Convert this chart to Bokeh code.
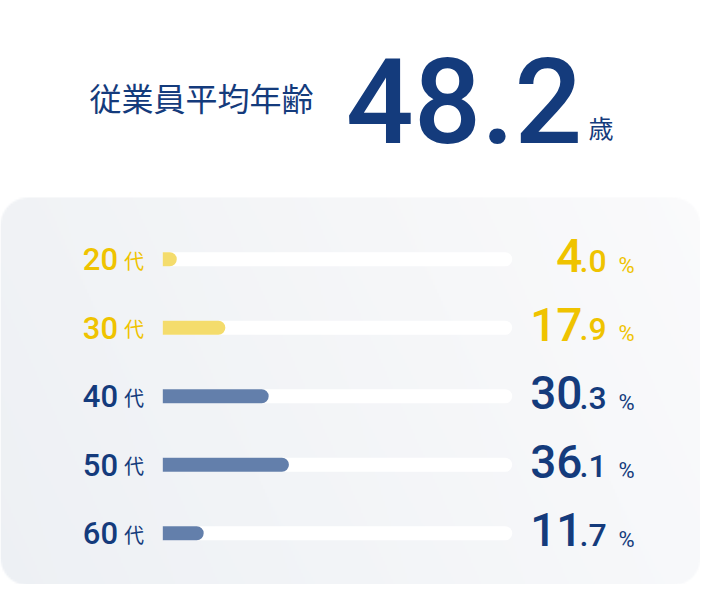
import numpy as np
from bokeh.plotting import figure
from bokeh.models import Range1d, ColumnDataSource
from bokeh.core.properties import value
from bokeh.embed import file_html
from bokeh.resources import INLINE

# ---- data ----
title_text = "従業員平均年齢"
average_age = "48.2"
age_unit = "歳"
decades = ["20", "30", "40", "50", "60"]
decade_suffix = "代"
shares = [4.0, 17.9, 30.3, 36.1, 11.7]
percent_sign = "%"

# ---- styles ----
NAVY = "#143b7c"
YELLOW_TXT = "#efc300"
YELLOW_BAR = "#f4dc6c"
BLUE_BAR = "#637fab"
NUM_FONT = value("Roboto Medium, Roboto")
CJK_FONT = value("Noto Sans CJK JP")

W, H = 700, 584
X0, XS = 162.3, 3.494     # px of 0 %, px per %
Y0, YS = 258.8, 68.5      # px of first row, px per row
def X(px):
    return (px - X0) / XS
def Y(px):
    return (px - Y0) / YS

p = figure(width=W, height=H, output_backend="svg", toolbar_location=None,
           x_range=Range1d(X(0), X(W)), y_range=Range1d(Y(H), Y(0)),
           min_border=0, outline_line_color=None, background_fill_color="white",
           border_fill_color="white")
p.axis.visible = False
p.grid.visible = False

# ---- panel background (soft gradient, rounded corners) ----
PT, PB, PL, PR, RAD, STEP = 197, 585, 0, 700, 28, 2
nx, ny = (PR - PL) // STEP, (PB - PT) // STEP
cx = PL + (np.arange(nx) + 0.5) * STEP
cy = PB - (np.arange(ny) + 0.5) * STEP          # row 0 = bottom
gx, gy = np.meshgrid(cx, cy)
u = (gx - PL) / (PR - PL)
v = (gy - PT) / (PB - PT)
c_tl = np.array([237, 240, 244.0])
c_tr = np.array([247, 248, 250.0])
c_bl = np.array([240, 242, 245.0])
col = c_tl + (c_tr - c_tl) * u[..., None] + (c_bl - c_tl) * v[..., None]
qx = np.abs(gx - (PL + PR) / 2) - ((PR - PL) / 2 - RAD)
qy = np.abs(gy - (PT + PB) / 2) - ((PB - PT) / 2 - RAD)
sdf = np.hypot(np.maximum(qx, 0), np.maximum(qy, 0)) + np.minimum(np.maximum(qx, qy), 0) - RAD
alpha = np.clip(0.5 - sdf / STEP, 0, 1) * 255
rgba = np.dstack([col, alpha]).round().astype(np.uint8)
img = np.ascontiguousarray(rgba).view(dtype=np.uint32).reshape(ny, nx)
p.image_rgba(image=[img], x=X(PL), y=Y(PT), dw=X(PR) - X(PL), dh=Y(PB) - Y(PT))

rows = list(range(len(decades)))
is_young = [d in ("20", "30") for d in decades]
bar_colors = [YELLOW_BAR if y else BLUE_BAR for y in is_young]
txt_colors = [YELLOW_TXT if y else NAVY for y in is_young]
int_parts = [f"{v:.1f}".split(".")[0] for v in shares]
dec_parts = ["." + f"{v:.1f}".split(".")[1] for v in shares]

src = ColumnDataSource(dict(row=rows, share=shares, decade=decades,
                            suffix=[decade_suffix] * len(rows),
                            bar_color=bar_colors, txt_color=txt_colors,
                            ip=int_parts, dp=dec_parts,
                            pct=[percent_sign] * len(rows),
                            full=[100] * len(rows), zero=[0] * len(rows)))

bh = 14 / YS
p.hbar(y="row", left="zero", right="full", height=bh, source=src,
       fill_color="white", line_color=None, border_radius=(0, 7, 7, 0))
p.hbar(y="row", left="zero", right="share", height=bh, source=src,
       fill_color="bar_color", line_color=None, border_radius=(0, 7, 7, 0))

# decade labels
p.text(x=X(117.5), y="row", text="decade", source=src, text_color="txt_color",
       text_font=NUM_FONT, text_font_size="31px", text_align="right",
       text_baseline="middle", y_offset=0)
p.text(x=X(123.5), y="row", text="suffix", source=src, text_color="txt_color",
       text_font=CJK_FONT, text_font_size="20px", text_align="left",
       text_baseline="middle", y_offset=1)

# values
p.text(x=X(582), y="row", text="ip", source=src, text_color="txt_color",
       text_font=NUM_FONT, text_font_size="46px", text_align="right",
       text_baseline="middle", y_offset=-3.5)
p.text(x=X(579), y="row", text="dp", source=src, text_color="txt_color",
       text_font=NUM_FONT, text_font_size="32px", text_align="left",
       text_baseline="middle", y_offset=1.5)
p.text(x=X(618), y="row", text="pct", source=src, text_color="txt_color",
       text_font=value("Roboto"), text_font_size="22px", text_align="left",
       text_baseline="middle", y_offset=6)

# header
p.text(x=[X(89)], y=[Y(96)], text=[title_text], text_color=NAVY,
       text_font=CJK_FONT, text_font_size="32px",
       text_align="left", text_baseline="middle")
p.text(x=[X(345.5)], y=[Y(99.5)], text=[average_age], text_color=NAVY,
       text_font=NUM_FONT, text_font_size="119px",
       text_align="left", text_baseline="middle")
p.text(x=[X(588)], y=[Y(126)], text=[age_unit], text_color=NAVY,
       text_font=CJK_FONT, text_font_size="25px",
       text_align="left", text_baseline="middle")

open("out.html", "w").write(file_html(p, INLINE))
